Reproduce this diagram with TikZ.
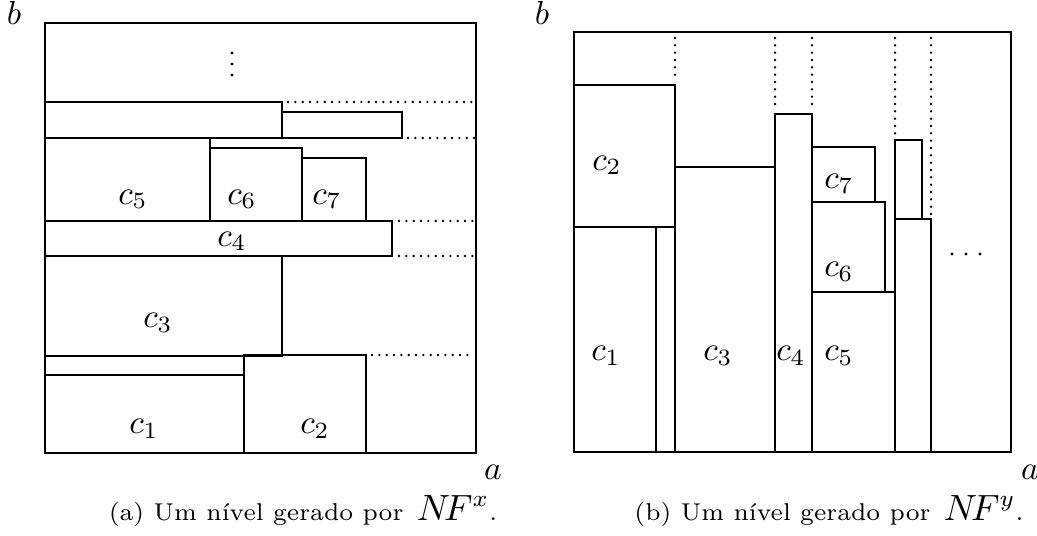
\documentclass[tikz,border=0pt]{standalone}
\begin{document}
\begin{tikzpicture}[x=0.3pt,y=-0.3pt,
  box/.style={draw,line width=0.8pt},
  dotln/.style={line width=0.8pt,dash pattern=on 0pt off 2.2pt,line cap=round},
  dotmark/.style={fill,radius=1.7},
  lbl/.style={anchor=base,inner sep=0pt,font=\fontsize{10}{12}\selectfont},
  captxt/.style={anchor=base,inner sep=0pt,font=\fontsize{7.3}{9}\selectfont}]
\useasboundingbox (0,0) rectangle (1037,536);
% ---------- panel (a)
\draw[box] (45,23) rectangle (476,453);
\draw[box] (45,102) rectangle (282,138);
\draw[box] (282,112) rectangle (402,138);
\draw[box] (45,138) rectangle (210,221);
\draw[box] (210,148) rectangle (302,221);
\draw[box] (302,158) rectangle (366,221);
\draw[box] (45,221) rectangle (392,256);
\draw[box] (45,256) rectangle (282,356);
\draw[box] (45,356) rectangle (244,375);
\draw[box] (45,375) rectangle (244,453);
\draw[box] (244,355) rectangle (366,453);
\draw[dotln] (288,102) -- (474,102);
\draw[dotln] (408,138) -- (474,138);
\draw[dotln] (399,221) -- (474,221);
\draw[dotln] (399,256) -- (474,256);
\draw[dotln] (372,355) -- (474,355);
\fill[dotmark] (232,53) circle;
\fill[dotmark] (232,64) circle;
\fill[dotmark] (232,75) circle;
\node[lbl] (a5) at (133,204) {$c_5$};
\node[lbl] (a6) at (242,204) {$c_6$};
\node[lbl] (a7) at (327,204) {$c_7$};
\node[lbl] (a4) at (232,246) {$c_4$};
\node[lbl] (a3) at (158,327) {$c_3$};
\node[lbl] (a1) at (144,433) {$c_1$};
\node[lbl] (a2) at (315,433) {$c_2$};
\node[lbl] (ab) at (14,25) {$b$};
\node[lbl] (aa) at (493,479) {$a$};
\node[captxt] (acap) at (303,520) {(a) Um n\'{\i}vel gerado por\, {\fontsize{10.5}{12}\selectfont$N\!F^x$}.};
% ---------- panel (b)
\draw[box] (574,32) rectangle (1011,452);
\draw[box] (574,85) rectangle (675,227);
\draw[box] (574,227) rectangle (656,452);
\draw[box] (656,227) rectangle (675,452);
\draw[box] (675,167) rectangle (775,452);
\draw[box] (775,114) rectangle (812,452);
\draw[box] (812,147) rectangle (875,202);
\draw[box] (812,202) rectangle (885,292);
\draw[box] (812,292) rectangle (895,452);
\draw[box] (895,140) rectangle (922,219);
\draw[box] (895,219) rectangle (931,452);
\draw[dotln] (675,38) -- (675,80);
\draw[dotln] (775,38) -- (775,110);
\draw[dotln] (812,38) -- (812,110);
\draw[dotln] (895,38) -- (895,135);
\draw[dotln] (931,38) -- (931,215);
\fill[dotmark] (952,254) circle;
\fill[dotmark] (966,254) circle;
\fill[dotmark] (980,254) circle;
\node[lbl] (b2) at (607,170) {$c_2$};
\node[lbl] (b1) at (606,360) {$c_1$};
\node[lbl] (b3) at (718,360) {$c_3$};
\node[lbl] (b4) at (791,360) {$c_4$};
\node[lbl] (b5) at (839,360) {$c_5$};
\node[lbl] (b6) at (839,277) {$c_6$};
\node[lbl] (b7) at (839,189) {$c_7$};
\node[lbl] (bb) at (542,25) {$b$};
\node[lbl] (ba) at (1030,479) {$a$};
\node[captxt] (bcap) at (829,520) {(b) Um n\'{\i}vel gerado por\, {\fontsize{10.5}{12}\selectfont$N\!F^y$}.};
\end{tikzpicture}
\end{document}
